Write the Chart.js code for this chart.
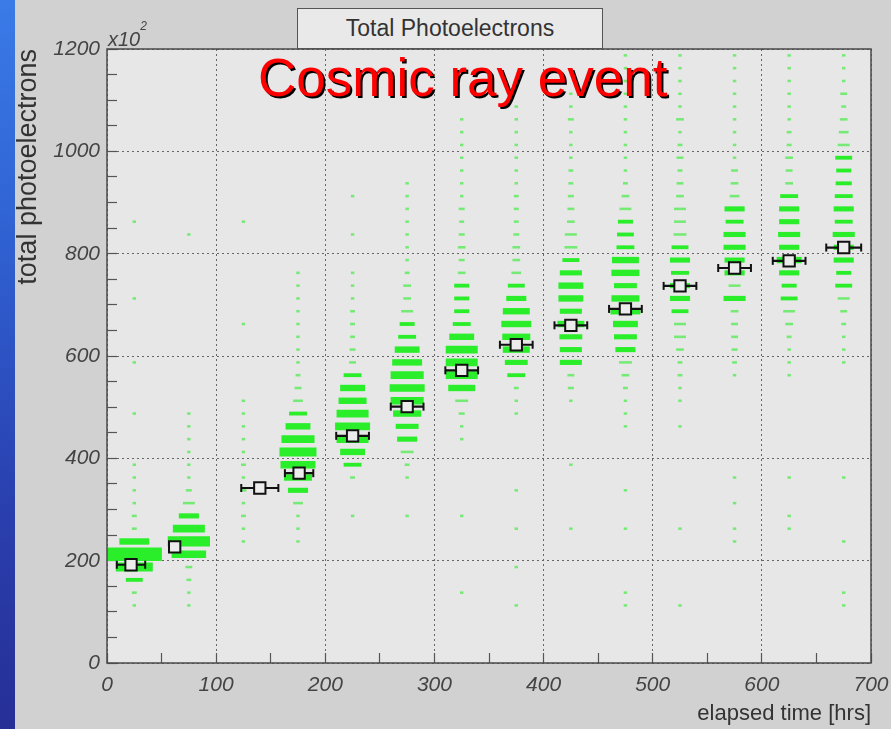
<!DOCTYPE html>
<html>
<head>
<meta charset="utf-8">
<title>Total Photoelectrons</title>
<script src="https://cdn.jsdelivr.net/npm/chart.js@4.4.1/dist/chart.umd.min.js"></script>
<style>
  html, body { margin: 0; padding: 0; }
  body {
    width: 891px; height: 729px; position: relative; overflow: hidden;
    background: #d1d1d1;
    font-family: 'Liberation Sans', Arial, sans-serif;
  }
  #strip {
    position: absolute; left: 0; top: 0; width: 15px; height: 729px;
    background: linear-gradient(to bottom, #3a7be8 0%, #2f5fd0 35%, #2a3fae 70%, #262f96 100%);
  }
  #wrap { position: absolute; left: 0; top: 0; width: 891px; height: 729px; }
  #histTitle {
    position: absolute; left: 297px; top: 8px; width: 304px; height: 39px;
    border: 1.5px solid #555; background: #e9e9e9; color: #333;
    font-size: 23px; line-height: 39px; text-align: center; z-index: 2;
  }
  #eventLabel {
    position: absolute; left: 258px; top: 51px; z-index: 3;
    font-size: 53px; line-height: 54px; color: #ff0000; white-space: nowrap;
    text-shadow: 2px 2px 0 #000;
  }
  #yExponent {
    position: absolute; left: 108px; top: 26px; z-index: 2;
    font-size: 20px; line-height: 20px; font-style: italic; color: #444; white-space: nowrap;
  }
  #yExponent sup { font-size: 12px; vertical-align: 16px; line-height: 0; }
</style>
</head>
<body>
<div id="strip"></div>
<div id="wrap"><canvas id="c" width="891" height="729"></canvas></div>
<div id="histTitle">Total Photoelectrons</div>
<div id="eventLabel">Cosmic ray event</div>
<div id="yExponent">x10<sup>2</sup></div>

<script>
// Elapsed-time bins (hrs): centres and width
const timeCentres = [25, 75, 125, 175, 225, 275, 325, 375, 425, 475, 525, 575, 625, 675];
const timeBinWidth = 50;

// Photoelectron bins (units of 10^2): 48 bins of 25 from 0 to 1200
const peBinWidth = 25;

// Entries per photoelectron bin, one array per time bin
const h025 = [0,0,0,0,1,2,24,115,250,75, 2,2,1,1,1,1,0,0,0,1, 0,0,0,1,0,0,0,0,1,0, 0,0,0,0,1,0,0,0,0,0, 0,0,0,0,0,0,0,0];
const h075 = [0,0,0,0,1,1,2,4,100,150, 86,34,12,3,1,1,1,1,1,1, 0,0,0,0,0,0,0,0,0,0, 0,0,0,1,0,0,0,0,0,0, 0,0,0,0,0,0,0,0];
const h125 = [0,0,0,0,0,0,0,0,0,1, 1,2,1,3,1,2,1,1,1,1, 1,0,0,0,0,0,1,0,0,0, 0,0,0,0,1,0,0,0,0,0, 0,0,0,0,0,0,0,0];
const h175 = [0,0,0,0,0,0,0,0,0,1, 1,1,8,34,66,103,115,92,52,27, 8,4,2,1,1,1,1,1,1,1, 1,0,0,0,0,0,0,0,0,0, 0,0,0,0,0,0,0,0];
const h225 = [0,0,0,0,0,0,0,0,0,0, 0,1,0,0,2,27,52,86,103,86, 66,52,27,4,3,2,2,2,1,1, 1,0,0,1,0,0,1,0,0,0, 0,0,0,0,0,0,0,0];
const h275 = [0,0,0,0,0,0,0,0,0,0, 0,1,0,0,1,2,14,34,44,66, 92,103,92,75,52,27,19,12,5,5, 2,1,1,1,1,1,1,1,0,0, 0,0,0,0,0,0,0,0];
const h325 = [0,0,0,0,0,1,0,0,0,0, 0,1,0,0,0,0,0,1,1,3, 14,61,86,86,86,52,27,19,19,19, 5,3,5,3,2,3,1,1,1,1, 1,1,1,0,0,0,0,0];
const h375 = [0,0,0,0,1,0,0,1,0,0, 1,0,0,1,0,0,0,0,0,1, 1,2,27,44,61,66,75,61,34,24, 8,5,5,3,2,2,2,1,1,1, 1,1,1,1,0,0,0,0];
const h425 = [0,0,0,0,0,0,0,0,0,0, 1,0,0,0,0,1,0,0,0,0, 1,3,4,41,41,44,61,41,52,52, 41,24,14,12,5,4,3,2,2,1, 1,1,3,1,1,0,0,0];
const h475 = [0,0,0,0,1,1,0,0,0,0, 1,0,0,1,0,0,0,0,1,1, 1,2,5,14,34,44,52,75,66,44, 66,61,27,24,19,12,5,2,1,1, 1,1,1,1,1,1,1,1];
const h525 = [0,0,0,0,1,0,0,0,0,0, 1,0,0,0,0,0,0,0,1,0, 1,1,2,2,5,12,12,24,34,34, 27,34,24,14,12,12,5,4,2,4, 2,1,5,1,1,1,1,1];
const h575 = [0,0,0,0,0,0,0,0,0,1, 1,0,1,0,1,0,0,0,0,0, 0,0,1,2,3,4,4,5,41,12, 34,34,41,41,27,34,8,5,4,1, 1,1,1,1,1,1,1,1];
const h625 = [0,0,0,0,0,0,0,0,0,0, 1,1,0,0,1,0,0,0,0,0, 0,0,1,1,1,2,5,12,24,19, 34,52,34,41,34,34,27,5,4,5, 2,2,1,1,1,1,1,1];
const h675 = [0,0,0,0,1,1,0,0,0,1, 0,0,0,0,1,0,0,0,0,0, 0,0,0,1,1,1,2,4,12,24, 19,34,34,41,27,34,27,22,19,24, 12,8,5,2,4,1,1,1];

// Profile means (time, photoelectrons) and their time spread
const profileTime = [22, 62, 140, 176, 225, 275, 325, 375, 425, 475, 525, 575, 625, 675];
const profileMean = [192, 227, 342, 371, 444, 501, 572, 622, 660, 692, 737, 772, 786, 812];
const profileTimeErr = [13, 4, 17, 13, 15, 15, 15, 15, 15, 15, 15, 15, 15, 16];

const histograms = [h025, h075, h125, h175, h225, h275, h325, h375, h425, h475, h525, h575, h625, h675];

// BOX-style 2D histogram: each cell's box area scales with its content.
// Width comes from the floating bar ends, height from the bar percentage of its size class.
const countMax = Math.max(...histograms.map(h => Math.max(...h)));
const sizeClasses = new Map();
histograms.forEach((hist, i) => {
  hist.forEach((count, k) => {
    if (!count) return;
    const frac = Math.sqrt(count / countMax);
    const cls = Math.max(2, Math.min(10, Math.round(frac * 10)));
    const half = frac * timeBinWidth / 2;
    const t = timeCentres[i];
    if (!sizeClasses.has(cls)) sizeClasses.set(cls, []);
    sizeClasses.get(cls).push({ y: (k + 0.5) * peBinWidth, x: [t - half, t + half] });
  });
});

const boxDatasets = [...sizeClasses.keys()].sort((a, b) => a - b).map(cls => ({
  type: 'bar',
  label: 'cells ' + cls,
  indexAxis: 'y',
  data: sizeClasses.get(cls),
  grouped: false,
  categoryPercentage: 1,
  barPercentage: cls / 10,
  backgroundColor: cls <= 2 ? 'rgba(42, 238, 42, 0.6)' : '#2aee2a',
  borderWidth: 0,
  order: 2
}));

const markerData = profileTime.map((t, i) => ({ x: t, y: profileMean[i] }));
const errorBarData = [];
profileTime.forEach((t, i) => {
  errorBarData.push({ x: t - profileTimeErr[i], y: profileMean[i] });
  errorBarData.push({ x: t + profileTimeErr[i], y: profileMean[i] });
  errorBarData.push({ x: t + profileTimeErr[i], y: null });
});

// Plot pad fill and frame
const plotFrame = {
  id: 'plotFrame',
  beforeDraw(chart) {
    const { ctx, chartArea: a } = chart;
    ctx.save();
    ctx.fillStyle = '#e7e7e7';
    ctx.fillRect(a.left, a.top, a.right - a.left, a.bottom - a.top);
    ctx.restore();
  },
  afterDraw(chart) {
    const { ctx, chartArea: a } = chart;
    ctx.save();
    ctx.strokeStyle = '#4a4a4a';
    ctx.lineWidth = 1.5;
    ctx.strokeRect(a.left, a.top, a.right - a.left, a.bottom - a.top);
    ctx.restore();
  }
};

const tickFont = { family: 'Liberation Sans', size: 21, style: 'italic' };

new Chart(document.getElementById('c'), {
  type: 'scatter',
  data: {
    datasets: [
      {
        type: 'scatter',
        label: 'mean',
        data: markerData,
        pointStyle: 'rect',
        pointRadius: 8,
        backgroundColor: '#ececec',
        borderColor: '#111',
        borderWidth: 2,
        order: 0
      },
      {
        type: 'scatter',
        label: 'spread',
        data: errorBarData,
        showLine: true,
        spanGaps: false,
        borderColor: '#111',
        borderWidth: 2.2,
        pointStyle: 'line',
        pointRotation: 90,
        pointRadius: 4,
        pointBorderWidth: 2,
        pointBorderColor: '#111',
        order: 1
      },
      ...boxDatasets
    ]
  },
  options: {
    responsive: false,
    animation: false,
    events: [],
    layout: { padding: { left: 0, right: 2, top: 49, bottom: 0 } },
    plugins: { legend: { display: false }, tooltip: { enabled: false } },
    scales: {
      x: {
        type: 'linear',
        position: 'bottom',
        min: 0, max: 700,
        offset: false,
        afterFit: s => { s.height = 66; s.paddingRight = 20; s.paddingLeft = 0; },
        ticks: {
          stepSize: 50, autoSkip: false, maxRotation: 0, padding: 20,
          color: '#444', font: tickFont,
          callback: v => (v % 100 === 0 ? String(v) : '')
        },
        grid: {
          offset: false,
          color: c => (c.tick && c.tick.value % 100 === 0 ? '#666' : 'rgba(0,0,0,0)'),
          lineWidth: 1, tickLength: -10, tickColor: '#555', tickWidth: 1.2
        },
        border: { display: false, dash: [2, 3] },
        title: {
          display: true, text: 'elapsed time [hrs]', align: 'end', color: '#333',
          font: { family: 'Liberation Sans', size: 22 }, padding: { top: 0, bottom: 2 }
        }
      },
      y: {
        type: 'linear',
        position: 'left',
        min: 0, max: 1200,
        offset: false,
        afterFit: s => { s.width = 107; },
        ticks: {
          stepSize: 50, autoSkip: false, padding: 17,
          color: '#444', font: tickFont,
          callback: v => (v % 200 === 0 ? String(v) : '')
        },
        grid: {
          offset: false,
          color: c => (c.tick && c.tick.value % 200 === 0 ? '#666' : 'rgba(0,0,0,0)'),
          lineWidth: 1, tickLength: -10, tickColor: '#555', tickWidth: 1.2
        },
        border: { display: false, dash: [2, 3] },
        title: {
          display: true, text: 'total photoelectrons', align: 'end', color: '#333',
          font: { family: 'Liberation Sans', size: 27 }, padding: { top: 12, bottom: 0 }
        }
      }
    }
  },
  plugins: [plotFrame]
});
</script>
</body>
</html>
